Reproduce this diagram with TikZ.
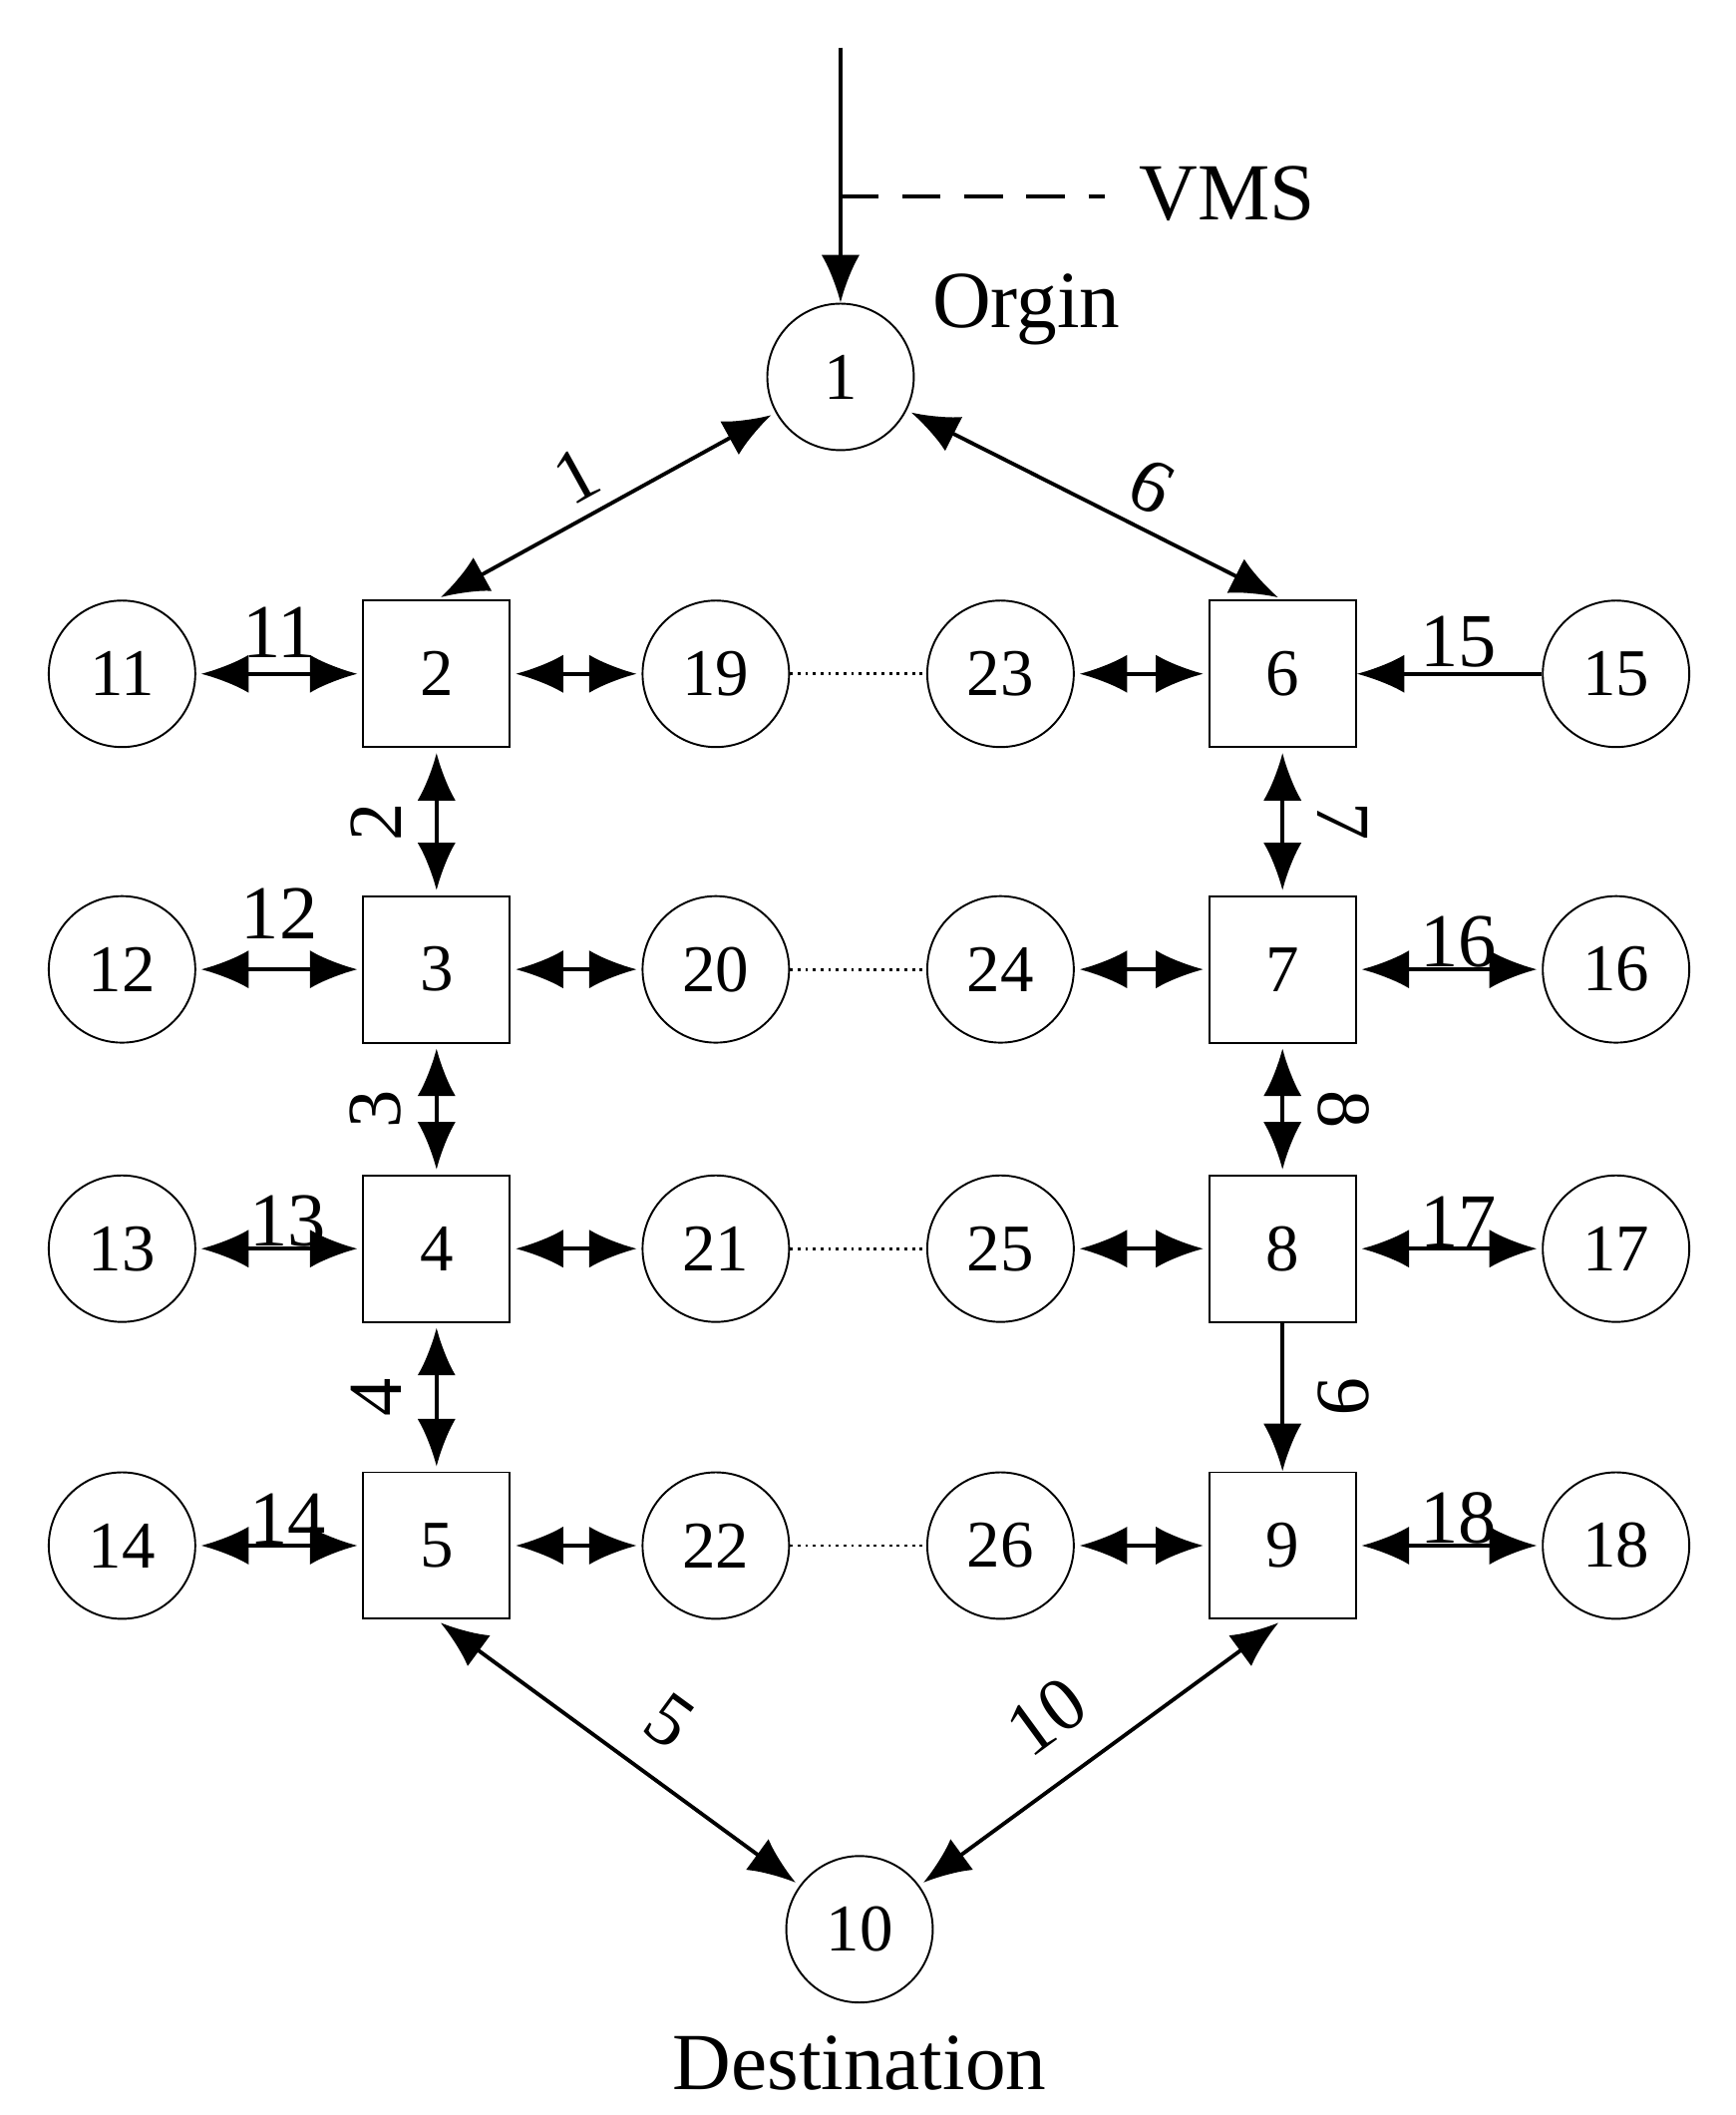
\documentclass[tikz,border=0pt]{standalone}
\usepackage{fontspec}
\setmainfont{Liberation Serif}
\usetikzlibrary{arrows.meta}
\begin{document}
\begin{tikzpicture}[x=0.01cm,y=-0.01cm,
  font=\fontsize{14}{16}\selectfont,
  c/.style={circle,draw,minimum size=1.08cm,inner sep=0pt},
  s/.style={rectangle,draw,minimum size=1.08cm,inner sep=0pt},
  e/.style={{Latex[length=10pt,width=8pt]}-{Latex[length=10pt,width=8pt]},line width=0.8pt,shorten <=1pt,shorten >=1pt},
  a/.style={-{Latex[length=10pt,width=8pt]},line width=0.8pt},
  d/.style={densely dotted,line width=0.6pt},
  lb/.style={font=\fontsize{16}{18}\selectfont,inner sep=3pt},
  vl/.style={lb,inner sep=7pt}]
\useasboundingbox (0,0) rectangle (1280,1560);
\node[c] (n1) at (620,278) {1};
\node[c] (n10) at (634,1423) {10};
\foreach \n/\y in {2/497,3/715,4/921,5/1140}{\node[s] (n\n) at (322,\y) {\n};}
\foreach \n/\y in {6/497,7/715,8/921,9/1140}{\node[s] (n\n) at (946,\y) {\n};}
\foreach \n/\y in {11/497,12/715,13/921,14/1140}{\node[c] (n\n) at (90,\y) {\n};}
\foreach \n/\y in {15/497,16/715,17/921,18/1140}{\node[c] (n\n) at (1192,\y) {\n};}
\foreach \n/\y in {19/497,20/715,21/921,22/1140}{\node[c] (n\n) at (528,\y) {\n};}
\foreach \n/\y in {23/497,24/715,25/921,26/1140}{\node[c] (n\n) at (738,\y) {\n};}
\coordinate (top) at (620,35);
\coordinate (vm) at (620,145);
\coordinate (vmsend) at (815,145);
\draw[a] (top) -- (n1);
\draw[line width=0.8pt,dash pattern=on 8pt off 5pt] (vm) -- (vmsend);
\node (vms) at (905,143) {\fontsize{17}{20}\selectfont VMS};
\node (org) at (757,228) {\fontsize{17}{20}\selectfont Orgin};
\node (dst) at (634,1522) {\fontsize{17}{20}\selectfont Destination};
% main edges
\draw[e] (n2.north) -- (n1) node[lb,pos=0.47,above,sloped] {1};
\draw[e] (n1) -- (n6.north) node[lb,pos=0.6,above,sloped] {6};
\draw[e] (n2) -- (n3) node[vl,midway,rotate=90,anchor=south] {2};
\draw[e] (n3) -- (n4) node[vl,midway,rotate=90,anchor=south] {3};
\draw[e] (n4) -- (n5) node[vl,midway,rotate=90,anchor=south] {4};
\draw[e] (n6) -- (n7) node[vl,midway,rotate=-90,anchor=south] {7};
\draw[e] (n7) -- (n8) node[vl,midway,rotate=-90,anchor=south] {8};
\draw[a] (n8) -- (n9) node[vl,midway,rotate=-90,anchor=south] {9};
\draw[e] (n5.south) -- (n10) node[lb,pos=0.55,above,sloped,inner sep=6pt] {5};
\draw[e] (n10) -- (n9.south) node[lb,pos=0.45,above,sloped,inner sep=7pt] {10};
% side edges
\draw[e] (n11) -- (n2) node[lb,midway,above] {11};
\draw[e] (n12) -- (n3) node[lb,midway,above,inner sep=6pt] {12};
\draw[e] (n13) -- (n4) node[lb,pos=0.55,above,inner sep=0pt] {13};
\draw[e] (n14) -- (n5) node[lb,pos=0.55,above,inner sep=0pt] {14};
\draw[a] (n15) -- (n6) node[lb,pos=0.45,above,inner sep=1pt] {15};
\draw[e] (n7) -- (n16) node[lb,pos=0.55,above,inner sep=0pt] {16};
\draw[e] (n8) -- (n17) node[lb,pos=0.55,above,inner sep=0pt] {17};
\draw[e] (n9) -- (n18) node[lb,pos=0.55,above,inner sep=0pt] {18};
\foreach \l/\r/\m in {2/19/23,3/20/24,4/21/25,5/22/26}{
  \draw[e] (n\l) -- (n\r);
  \draw[d] (n\r) -- (n\m);
}
\foreach \m/\r in {23/6,24/7,25/8,26/9}{\draw[e] (n\m) -- (n\r);}
\end{tikzpicture}
\end{document}
